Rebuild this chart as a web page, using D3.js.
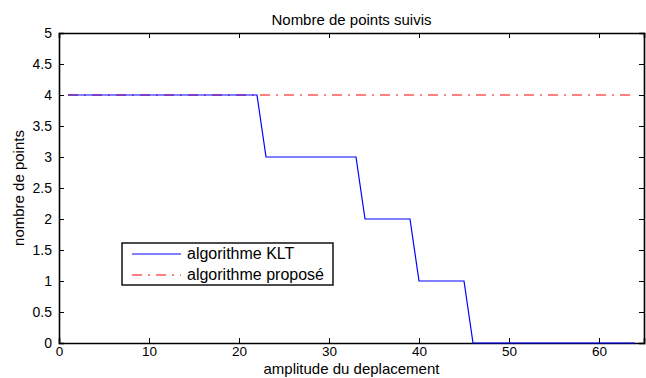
<!DOCTYPE html>
<html>
<head>
<meta charset="utf-8">
<script src="https://cdn.jsdelivr.net/npm/d3@7"></script>
<style>
  body { margin: 0; background: #fff; }
  text { font-family: "Liberation Sans", Arial, Helvetica, sans-serif; fill: #000; }
</style>
</head>
<body>
<div id="chart"></div>
<script>
// breakpoints of the KLT curve (x, tracked points)
const kltX = [1, 22, 23, 33, 34, 39, 40, 45, 46, 64];
const kltY = [4, 4, 3, 3, 2, 2, 1, 1, 0, 0];
// proposed algorithm keeps all points
const propX = [1, 64];
const propY = [4, 4];

const xTicks = [0, 10, 20, 30, 40, 50, 60];
const yTicks = [0, 0.5, 1, 1.5, 2, 2.5, 3, 3.5, 4, 4.5, 5];

const seriesNames = ['algorithme KLT', 'algorithme proposé'];

const W = 646, H = 378;
const margin = {top: 33, right: 2, bottom: 35, left: 59};
const width = W - margin.left - margin.right;
const height = H - margin.top - margin.bottom;

const svg = d3.select('#chart').append('svg')
    .attr('width', W)
    .attr('height', H);

const g = svg.append('g')
    .attr('transform', 'translate(' + margin.left + ',' + margin.top + ')');

const x = d3.scaleLinear().domain([0, 65]).range([0, width]);
const y = d3.scaleLinear().domain([0, 5]).range([height, 0]);

const fmt = d => String(d);

// axes, ticks pointing inward like matlab
const axBottom = g.append('g')
    .attr('transform', 'translate(0,' + height + ')')
    .call(d3.axisBottom(x).tickValues(xTicks).tickSize(-5).tickPadding(3).tickFormat(fmt));
const axTop = g.append('g')
    .call(d3.axisTop(x).tickValues(xTicks).tickSize(-5).tickFormat(''));
const axLeft = g.append('g')
    .call(d3.axisLeft(y).tickValues(yTicks).tickSize(-5).tickPadding(7).tickFormat(fmt));
const axRight = g.append('g')
    .attr('transform', 'translate(' + width + ',0)')
    .call(d3.axisRight(y).tickValues(yTicks).tickSize(-5).tickFormat(''));

[axBottom, axTop, axLeft, axRight].forEach(a => {
    a.select('.domain').attr('stroke', '#000').attr('stroke-width', 1.6);
    a.selectAll('.tick line').attr('stroke', '#000');
    a.selectAll('.tick text').style('font-size', '14px');
});
axBottom.selectAll('.tick text').style('font-size', '13.5px');

const line = d3.line()
    .x(d => x(d[0]))
    .y(d => y(d[1]));

// proposed (red dash-dot)
g.append('path')
    .datum(d3.zip(propX, propY))
    .attr('fill', 'none')
    .attr('stroke', '#ff0000')
    .attr('stroke-width', 1.2)
    .attr('stroke-dasharray', '10,6,2,6')
    .attr('d', line);

// KLT (blue solid)
g.append('path')
    .datum(d3.zip(kltX, kltY))
    .attr('fill', 'none')
    .attr('stroke', '#0000ff')
    .attr('stroke-width', 1.2)
    .attr('d', line);

// title and labels
svg.append('text')
    .attr('x', margin.left + width / 2)
    .attr('y', 25)
    .attr('text-anchor', 'middle')
    .style('font-size', '15px')
    .text('Nombre de points suivis');

svg.append('text')
    .attr('x', margin.left + width / 2)
    .attr('y', 374)
    .attr('text-anchor', 'middle')
    .style('font-size', '15px')
    .text('amplitude du deplacement');

svg.append('text')
    .attr('transform', 'translate(24,' + (margin.top + height / 2) + ') rotate(-90)')
    .attr('text-anchor', 'middle')
    .style('font-size', '15px')
    .text('nombre de points');

// legend
const leg = svg.append('g').attr('transform', 'translate(122,243)');
leg.append('rect')
    .attr('width', 211).attr('height', 42)
    .attr('fill', '#fff').attr('stroke', '#000').attr('stroke-width', 1.4);

const legStyles = [
    {color: '#0000ff', dash: null},
    {color: '#ff0000', dash: '10,6,2,6'}
];
seriesNames.forEach((name, i) => {
    const yy = 11 + i * 21;
    leg.append('line')
        .attr('x1', 10).attr('x2', 59)
        .attr('y1', yy).attr('y2', yy)
        .attr('stroke', legStyles[i].color)
        .attr('stroke-width', 1.2)
        .attr('stroke-dasharray', legStyles[i].dash);
    leg.append('text')
        .attr('x', 65).attr('y', yy + 5)
        .style('font-size', '16px')
        .text(name);
});
</script>
</body>
</html>
